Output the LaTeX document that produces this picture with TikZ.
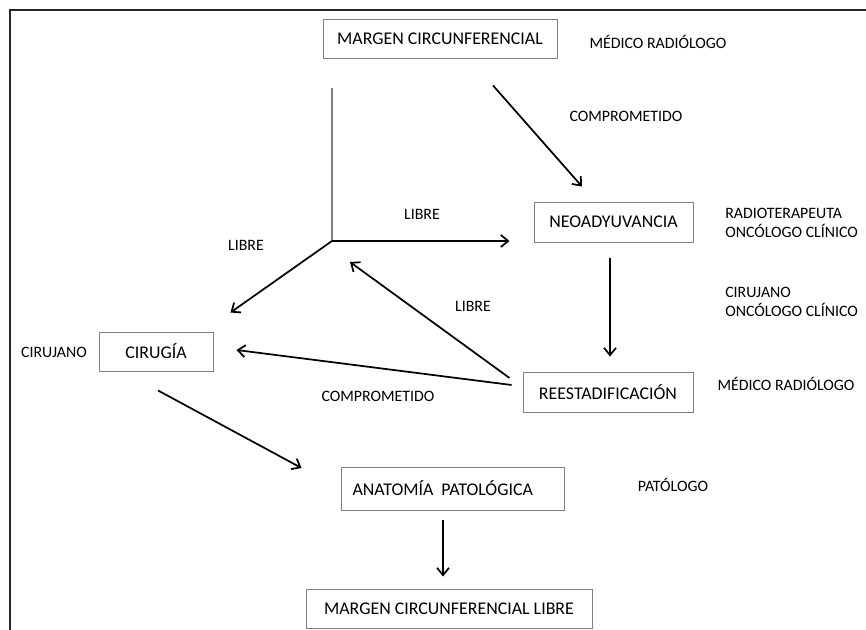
\documentclass[tikz,border=0pt]{standalone}
\usepackage{fontspec}
\setmainfont{Carlito}
\usepackage{tikz}
\usetikzlibrary{arrows.meta,calc,positioning}

\tikzset{
	caja/.style={draw=gray, line width=0.7pt, inner sep=0pt, font=\fontsize{13.4}{16}\selectfont},
	etiqueta/.style={inner sep=0pt, align=left},
	flecha/.style={line width=1.3pt, -{Straight Barb[length=5.5pt,width=9pt,line width=1.3pt]}}
}

\begin{document}
\begin{tikzpicture}[x=0.75pt, y=-0.75pt, font=\fontsize{11.9}{14.3}\selectfont]
			\useasboundingbox (0,0) rectangle (866,630);
			\draw [line width=1.1pt, black!85] (10,640) -- (10,10) -- (876,10);

			\node [caja, minimum width=175.5pt, minimum height=29.25pt] (margen) at (440,38.5) {MARGEN CIRCUNFERENCIAL};
			\node [caja, minimum width=119.25pt, minimum height=30pt] (neo) at (613.5,222) {NEOADYUVANCIA};
			\node [caja, minimum width=85.5pt, minimum height=29.25pt] (cirugia) at (156,351.5) {CIRUGÍA};
			\node [caja, minimum width=127.5pt, minimum height=30pt] (reest) at (608,392) {REESTADIFICACIÓN};
			\node [caja, minimum width=167.25pt, minimum height=32.25pt, text width=150pt] (anatomia) at (452.5,488.5) {ANATOMÍA\hspace{1.5pt} PATOLÓGICA};
			\node [caja, minimum width=214.5pt, minimum height=29.25pt] (libre) at (449,608.5) {MARGEN CIRCUNFERENCIAL LIBRE};
			\coordinate (cruce) at (332,241);

			\node [etiqueta] (medico1) at (658,42) {MÉDICO RADIÓLOGO};
			\node [etiqueta] (compr1) at (626,116) {COMPROMETIDO};
			\node [etiqueta] (libre1) at (422,214) {LIBRE};
			\node [etiqueta] (libre2) at (246,245) {LIBRE};
			\node [etiqueta, anchor=west] (radio) at (725,222.5) {RADIOTERAPEUTA\\ONCÓLOGO CLÍNICO};
			\node [etiqueta, anchor=west] (cirujano1) at (725,302) {CIRUJANO\\ONCÓLOGO CLÍNICO};
			\node [etiqueta] (libre3) at (473,306) {LIBRE};
			\node [etiqueta] (cirujano2) at (54,352) {CIRUJANO};
			\node [etiqueta] (compr2) at (378,396) {COMPROMETIDO};
			\node [etiqueta] (medico2) at (786,384) {MÉDICO RADIÓLOGO};
			\node [etiqueta] (patologo) at (673,485) {PATÓLOGO};

			\draw [gray, line width=0.8pt] (cruce) to ($(cruce)+(0,-153)$);
			\draw [flecha] ($(margen.south)+(53,27)$) to ($(neo.north)+(-31.5,-15)$);
			\draw [flecha] ($(neo.south)+(-3.5,16)$) to ($(reest.north)+(2,-15)$);
			\draw [flecha] (cruce) to ($(neo.west)+(-24,19)$);
			\draw [flecha] (cruce) to ($(cirugia.north east)+(17,-19)$);
			\draw [flecha] ($(reest.west)+(-13,-14)$) to ($(cruce)+(18,21)$);
			\draw [flecha] ($(reest.west)+(-11,-7)$) to ($(cirugia.east)+(23,-1.5)$);
			\draw [flecha] ($(cirugia.south)+(2,19)$) to ($(anatomia.west)+(-39,-20.5)$);
			\draw [flecha] ($(anatomia.south)+(-9.5,10)$) to ($(libre.north)+(-6,-12)$);
		\end{tikzpicture}
\end{document}
